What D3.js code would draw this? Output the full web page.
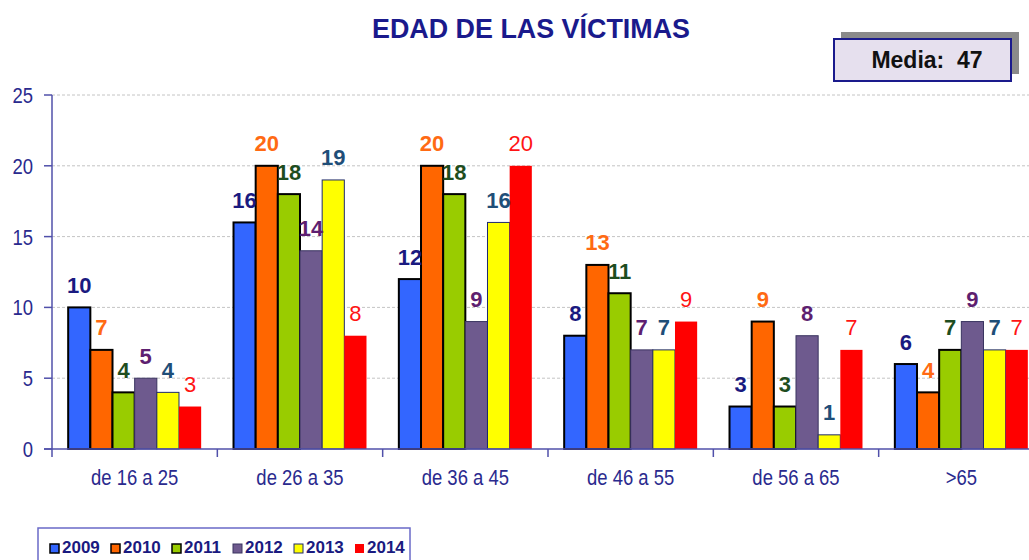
<!DOCTYPE html>
<html><head><meta charset="utf-8">
<script src="https://cdn.jsdelivr.net/npm/d3@7"></script>
<style>
html,body{margin:0;padding:0;background:#fff;}
svg{display:block;font-family:"Liberation Sans",Arial,Helvetica,sans-serif;}
</style></head>
<body>
<svg id="chart" width="1029" height="560"></svg>
<script>
// ---- data ----
const categories = ["de 16 a 25","de 26 a 35","de 36 a 45","de 46 a 55","de 56 a 65",">65"];
const years = ["2009","2010","2011","2012","2013","2014"];
const v2009 = [10,16,12,8,3,6];
const v2010 = [7,20,20,13,9,4];
const v2011 = [4,18,18,11,3,7];
const v2012 = [5,14,9,7,8,9];
const v2013 = [4,19,16,7,1,7];
const v2014 = [3,8,20,9,7,7];
const yTicks = [0,5,10,15,20,25];
const titleText = "EDAD DE LAS VÍCTIMAS";
const mediaText = "Media:\u00a0 47";

(function(){
const seriesValues = [v2009,v2010,v2011,v2012,v2013,v2014];
const fills   = ["#3366ff","#ff6600","#99cc00","#6e5a8e","#ffff00","#ff0000"];
const strokes = ["#000000","#000000","#000000","#3a3460","#1f2a6e","none"];
const strokeW = [2,2,2,1,1,0];
const labelColors = ["#1a1a80","#ff6a13","#1e4d1e","#5e1f70","#1f4e78","#ff1414"];
const labelWeights = ["bold","bold","bold","bold","bold","normal"];

const svg = d3.select("#chart");
const navy = "#1a1a8c";
const axisTextColor = "#2a2a8e";
const axisColor = "#5050aa";

const pL = 52, pR = 1044, pT = 95, pB = 449;
const y = d3.scaleLinear().domain([0,25]).range([pB, pT]);
const x0 = d3.scaleBand().domain(categories).range([pL, pR]).paddingInner(0).paddingOuter(0);
const x1 = d3.scaleBand().domain(years).range([0, x0.bandwidth()]).paddingInner(0).paddingOuter(0.73);

// title
svg.append("text")
  .attr("transform", "translate(531,38) scale(0.96,1)")
  .attr("text-anchor","middle")
  .attr("font-size",28).attr("font-weight","bold")
  .attr("fill", navy).text(titleText);

// gridlines
svg.append("g").selectAll("line").data(yTicks.filter(d=>d>0)).join("line")
  .attr("x1", pL).attr("x2", 1029)
  .attr("y1", d=>y(d)).attr("y2", d=>y(d))
  .attr("stroke","#c4c4c4").attr("stroke-width",1).attr("stroke-dasharray","3,2");

// media box
svg.append("rect").attr("x",841).attr("y",32).attr("width",178).attr("height",42).attr("fill","#8a8a8a");
svg.append("rect").attr("x",834).attr("y",39).attr("width",177).attr("height",42)
  .attr("fill","#e6e0ee").attr("stroke",navy).attr("stroke-width",2);
svg.append("text").attr("x",927).attr("y",68).attr("text-anchor","middle")
  .attr("font-size",23).attr("font-weight","bold").attr("fill","#111").text(mediaText);

// bars
const rows = categories.map((c,i)=>({cat:c, vals: years.map((yr,j)=>({yr, j, v: seriesValues[j][i]}))}));
const groups = svg.append("g").selectAll("g").data(rows).join("g")
  .attr("transform", d=>`translate(${x0(d.cat)},0)`);
groups.selectAll("rect").data(d=>d.vals).join("rect")
  .attr("x", d=>x1(d.yr)).attr("width", x1.bandwidth())
  .attr("y", d=>y(d.v)).attr("height", d=>y(0)-y(d.v))
  .attr("fill", d=>fills[d.j])
  .attr("stroke", d=>strokes[d.j]).attr("stroke-width", d=>strokeW[d.j]);
groups.selectAll("text").data(d=>d.vals).join("text")
  .attr("x", d=>x1(d.yr)+x1.bandwidth()/2).attr("y", d=>y(d.v)-14.5)
  .attr("text-anchor","middle").attr("font-size",22)
  .attr("font-weight", d=>labelWeights[d.j])
  .attr("fill", d=>labelColors[d.j]).text(d=>d.v);

// y axis
const yAxis = svg.append("g");
yAxis.append("line").attr("x1",pL).attr("x2",pL).attr("y1",pT).attr("y2",pB+8)
  .attr("stroke",axisColor).attr("stroke-width",1.5);
yAxis.selectAll("line.tk").data(yTicks).join("line").attr("class","tk")
  .attr("x1",pL-8).attr("x2",pL).attr("y1",d=>y(d)).attr("y2",d=>y(d))
  .attr("stroke",axisColor).attr("stroke-width",1.5);
yAxis.selectAll("text").data(yTicks).join("text")
  .attr("transform", d=>`translate(33,${y(d)+8}) scale(0.84,1)`)
  .attr("text-anchor","end").attr("font-size",22).attr("fill",axisTextColor).text(d=>d);

// x axis
const xAxis = svg.append("g");
xAxis.append("line").attr("x1",pL-8).attr("x2",1029).attr("y1",pB).attr("y2",pB)
  .attr("stroke",axisColor).attr("stroke-width",1.5);
xAxis.selectAll("line.tk").data(categories.slice(1)).join("line").attr("class","tk")
  .attr("x1",d=>x0(d)).attr("x2",d=>x0(d)).attr("y1",pB).attr("y2",pB+8)
  .attr("stroke",axisColor).attr("stroke-width",1.5);
xAxis.selectAll("text").data(categories).join("text")
  .attr("transform", d=>`translate(${x0(d)+x0.bandwidth()/2},485) scale(0.84,1)`)
  .attr("text-anchor","middle").attr("font-size",22).attr("fill",axisTextColor).text(d=>d);

// legend
const lg = svg.append("g");
lg.append("rect").attr("x",38).attr("y",528).attr("width",372).attr("height",40)
  .attr("fill","#fff").attr("stroke","#6a6ac8").attr("stroke-width",1.5);
const items = lg.selectAll("g").data(years).join("g")
  .attr("transform",(d,i)=>`translate(${50+i*61},0)`);
items.append("rect").attr("x",0).attr("y",544).attr("width",9).attr("height",9)
  .attr("fill",(d,i)=>fills[i])
  .attr("stroke",(d,i)=> i<3 ? "#000" : (i===5 ? "none" : strokes[i]))
  .attr("stroke-width",(d,i)=> i<3 ? 1.5 : 1);
items.append("text").attr("x",12).attr("y",553).attr("font-size",17).attr("font-weight","bold")
  .attr("fill","#1a1a80").text(d=>d);
})();
</script>
</body></html>
